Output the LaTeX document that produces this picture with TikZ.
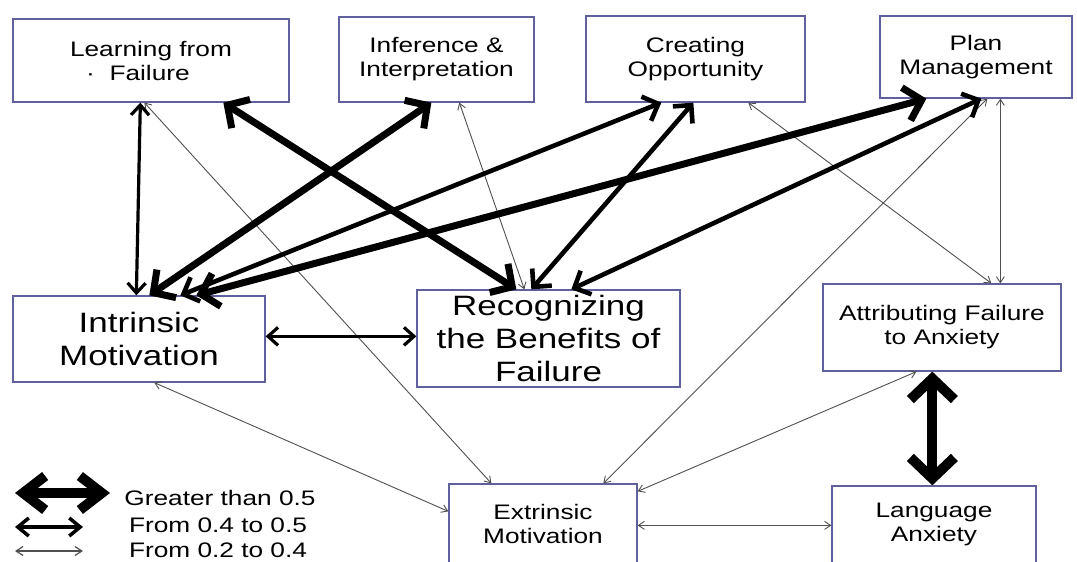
\documentclass[tikz,border=0pt]{standalone}
\usepackage{fontspec}
\setmainfont[FakeStretch=1.25]{Liberation Sans}
\usetikzlibrary{arrows.meta}
\definecolor{boxc}{RGB}{96,96,156}
\definecolor{thinc}{RGB}{80,80,80}
\begin{document}
\begin{tikzpicture}[x=1pt,y=-1pt,
  box/.style={draw=boxc, line width=1.3pt, fill=white, rectangle, inner sep=0pt,
    align=center, font=\fontsize{21}{24}\selectfont, text=black},
  bigbox/.style={box, font=\fontsize{28}{33}\selectfont},
  legtext/.style={inner sep=0pt, font=\fontsize{21}{24}\selectfont, text=black},
  wthin/.style={draw=thinc, line width=0.9pt, >={Straight Barb[length=6pt,width=8pt]}, <->},
  wmed/.style={draw=black, line width=3.2pt, >={Straight Barb[length=10pt,width=18pt]}, <->},
  wmthick/.style={draw=black, line width=4.6pt, >={Straight Barb[length=13pt,width=26pt]}, <->},
  wthick/.style={draw=black, line width=7pt, >={Straight Barb[length=16pt,width=34pt]}, <->},
  wxthick/.style={draw=black, line width=10pt, >={Straight Barb[length=21pt,width=44pt]}, <->}]
\useasboundingbox (0,0) rectangle (1077,562);
\fill[white] (0,0) rectangle (1077,562);

% boxes
\node[box, minimum width=276pt, minimum height=83pt] (learn) at (151,60.5) {Learning from\\\hspace*{-26pt}·\ \ Failure};
\node[box, minimum width=195pt, minimum height=85pt] (infer) at (436.5,59.5) {Inference \&\\Interpretation};
\node[box, minimum width=219pt, minimum height=86pt] (creat) at (695.5,59) {Creating\\Opportunity};
\node[box, minimum width=192pt, minimum height=82pt] (plan) at (976,57) {Plan\\Management};
\node[bigbox, minimum width=252pt, minimum height=86pt] (intr) at (139,339) {Intrinsic\\Motivation};
\node[bigbox, minimum width=263pt, minimum height=97pt] (recog) at (548.5,338.5) {Recognizing\\the Benefits of\\Failure};
\node[box, minimum width=238pt, minimum height=87pt] (attr) at (942,327.5) {Attributing Failure\\to Anxiety};
\node[box, minimum width=188pt, minimum height=79pt] (extr) at (543,523.5) {Extrinsic\\Motivation};
\node[box, minimum width=204pt, minimum height=77pt] (lang) at (934,524.5) {Language\\Anxiety};

% connectors
\draw[wthin] ([xshift=132pt]learn.south west) -- ([xshift=43pt]extr.north west);
\draw[wthin] ([xshift=121pt]infer.south west) -- ([xshift=108pt]recog.north west);
\draw[wthin] ([xshift=163pt]creat.south west) -- ([xshift=169pt]attr.north west);
\draw[wthin] ([xshift=108pt]plan.south west) -- ([xshift=155pt]extr.north west);
\draw[wthin] ([xshift=121pt]plan.south west) -- ([xshift=178pt]attr.north west);
\draw[wthin] ([xshift=142pt]intr.south west) -- ([yshift=-28pt]extr.north west);
\draw[wthin] ([yshift=-8pt]extr.north east) -- ([xshift=94pt]attr.south west);
\draw[wthin] ([yshift=-42pt]extr.north east) -- ([yshift=-40pt]lang.north west);

\draw[wmed] ([xshift=128pt]learn.south west) -- ([xshift=124pt]intr.north west);
\draw[wmed] ([yshift=-41pt]intr.north east) -- ([yshift=-47pt]recog.north west);

\draw[wmthick] ([xshift=76pt]creat.south west) -- ([xshift=168pt]intr.north west);
\draw[wmthick] ([xshift=108pt]creat.south west) -- ([xshift=115pt]recog.north west);
\draw[wmthick] ([xshift=102pt]plan.south west) -- ([xshift=155pt]recog.north west);

\draw[wthick] ([xshift=211pt]learn.south west) -- ([xshift=100pt]recog.north west);
\draw[wthick] ([xshift=93pt]infer.south west) -- ([xshift=137pt]intr.north west);
\draw[wthick] ([xshift=47pt]plan.south west) -- ([xshift=184pt]intr.north west);

\draw[wxthick] ([xshift=110pt]attr.south west) -- ([xshift=101pt]lang.north west);

% legend
\coordinate (l1a) at (15,493);
\coordinate (l1b) at (110,493);
\coordinate (l2a) at (15,527);
\coordinate (l2b) at (83,527);
\coordinate (l3a) at (15,551);
\coordinate (l3b) at (83,551);
\draw[draw=black, line width=10pt, >={Straight Barb[length=22pt,width=34pt]}, <->] (l1a) -- (l1b);
\draw[draw=black, line width=3.5pt, >={Straight Barb[length=11pt,width=18pt]}, <->] (l2a) -- (l2b);
\draw[draw=thinc, line width=1.2pt, >={Straight Barb[length=7pt,width=9pt]}, <->] (l3a) -- (l3b);
\node[legtext] (t1) at (220,498) {Greater than 0.5};
\node[legtext] (t2) at (218,525) {From 0.4 to 0.5};
\node[legtext] (t3) at (218,550) {From 0.2 to 0.4};
\end{tikzpicture}
\end{document}
